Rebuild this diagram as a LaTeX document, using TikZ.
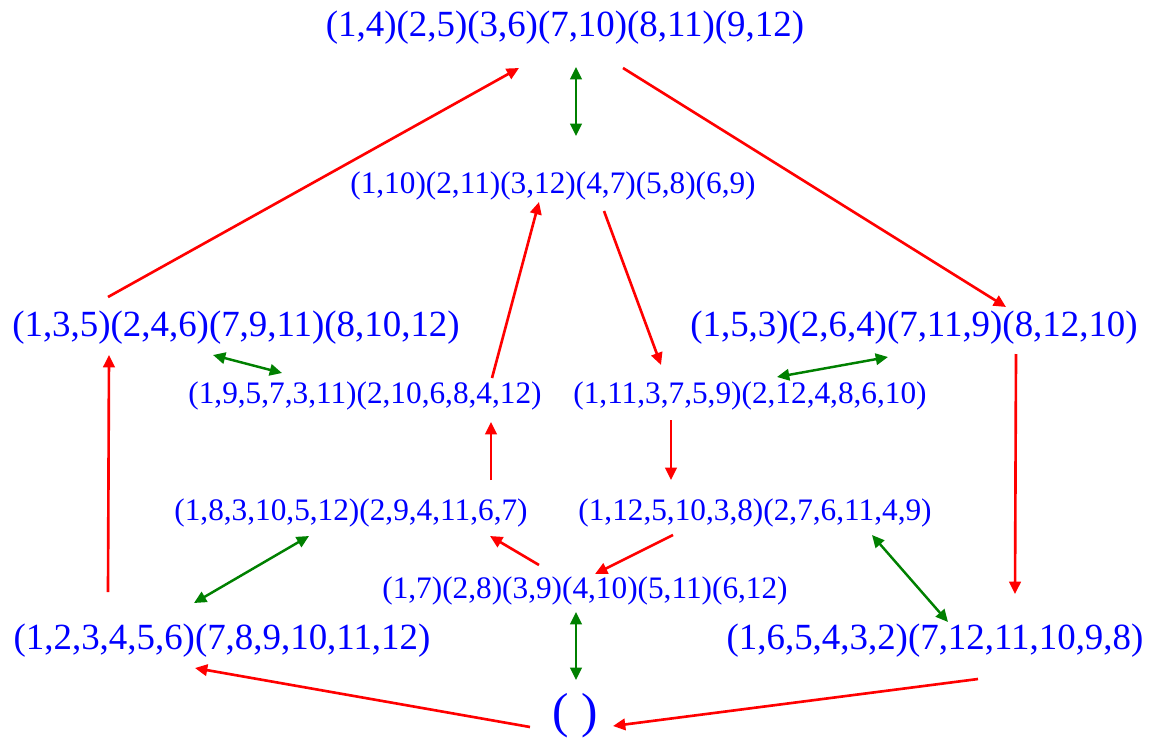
\documentclass[tikz,border=0pt]{standalone}
\usepackage{fontspec}
\setmainfont{Liberation Serif}
\usetikzlibrary{arrows.meta,calc}

\definecolor{CycleInk}{HTML}{0000FF}
\definecolor{CycleStep}{HTML}{FF0000}
\definecolor{CycleSwap}{HTML}{008000}

\tikzset{
    bigcycle/.style={text=CycleInk,inner sep=0pt,font=\fontsize{21}{21}\selectfont},
    midcycle/.style={text=CycleInk,inner sep=0pt,font=\fontsize{17.8}{18}\selectfont},
    idcycle/.style={text=CycleInk,inner sep=0pt,font=\fontsize{28}{28}\selectfont},
    steparrow/.style={CycleStep,line width=1.5pt,-{Triangle[length=7pt,width=6.5pt]}},
    swaparrow/.style={CycleSwap,line width=1.4pt,{Triangle[length=7pt,width=6.5pt]}-{Triangle[length=7pt,width=6.5pt]}}
}

\begin{document}
\begin{tikzpicture}[x=0.02cm,y=-0.02cm]
    \useasboundingbox (0,0) rectangle (1159,750);

    \node[bigcycle] (T) at (565,28) {(1,4)(2,5)(3,6)(7,10)(8,11)(9,12)};
    \node[midcycle] (M1) at (553,186) {(1,10)(2,11)(3,12)(4,7)(5,8)(6,9)};
    \node[bigcycle] (L1) at (236,328) {(1,3,5)(2,4,6)(7,9,11)(8,10,12)};
    \node[bigcycle] (R1) at (914,328) {(1,5,3)(2,6,4)(7,11,9)(8,12,10)};
    \node[midcycle] (L2) at (365,396) {(1,9,5,7,3,11)(2,10,6,8,4,12)};
    \node[midcycle] (R2) at (750,396) {(1,11,3,7,5,9)(2,12,4,8,6,10)};
    \node[midcycle] (L3) at (351,513) {(1,8,3,10,5,12)(2,9,4,11,6,7)};
    \node[midcycle] (R3) at (755,513) {(1,12,5,10,3,8)(2,7,6,11,4,9)};
    \node[midcycle] (C) at (585,591) {(1,7)(2,8)(3,9)(4,10)(5,11)(6,12)};
    \node[bigcycle] (BL) at (222,641) {(1,2,3,4,5,6)(7,8,9,10,11,12)};
    \node[bigcycle] (BR) at (935,641) {(1,6,5,4,3,2)(7,12,11,10,9,8)};
    \node[idcycle] (E) at (575,716) {( )};

    \draw[steparrow] ($(L1)+(-128,-31)$) -- ($(T)+(-46,40)$);
    \draw[steparrow] ($(T)+(58,40)$) -- ($(R1)+(92,-21)$);
    \draw[steparrow] ($(R1)+(102,26)$) -- ($(BR)+(80,-47)$);
    \draw[steparrow] ($(BR)+(43,38)$) -- ($(E)+(38,10)$);
    \draw[steparrow] ($(E)+(-45,11)$) -- ($(BL)+(-27,27)$);
    \draw[steparrow] ($(BL)+(-114,-49)$) -- ($(L1)+(-127,27)$);
    \draw[steparrow] ($(L2)+(127,-18)$) -- ($(M1)+(-14,16)$);
    \draw[steparrow] ($(M1)+(51,25)$) -- ($(R2)+(-89,-31)$);
    \draw[steparrow] ($(R2)+(-79,24)$) -- ($(R3)+(-84,-33)$);
    \draw[steparrow] ($(L3)+(140,-33)$) -- ($(L2)+(126,26)$);
    \draw[steparrow] ($(C)+(-46,-26)$) -- ($(L3)+(139,23)$);
    \draw[steparrow] ($(R3)+(-82,22)$) -- ($(C)+(10,-17)$);

    \draw[swaparrow] ($(T)+(11,39)$) -- ($(M1)+(23,-50)$);
    \draw[swaparrow] ($(L1)+(-23,27)$) -- ($(L2)+(-83,-23)$);
    \draw[swaparrow] ($(R1)+(-26,29)$) -- ($(R2)+(27,-19)$);
    \draw[swaparrow] ($(L3)+(-42,23)$) -- ($(BL)+(-28,-38)$);
    \draw[swaparrow] ($(R3)+(117,22)$) -- ($(BR)+(13,-19)$);
    \draw[swaparrow] ($(C)+(-9,21)$) -- ($(E)+(1,-36)$);
  \end{tikzpicture}
\end{document}
